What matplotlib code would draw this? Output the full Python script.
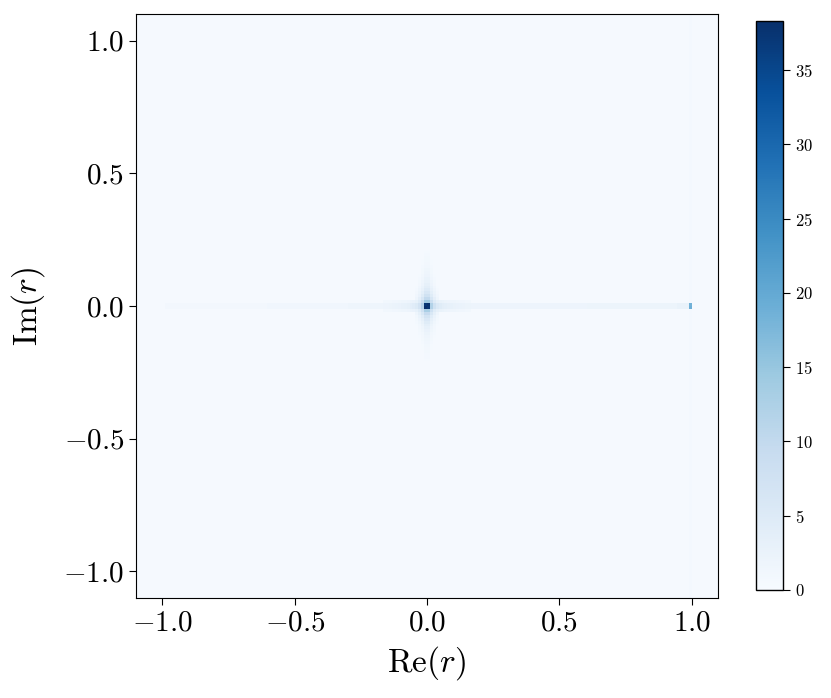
import numpy as np
import matplotlib
matplotlib.use("Agg")
import matplotlib.pyplot as plt
from matplotlib.ticker import FuncFormatter

plt.rcParams["mathtext.fontset"] = "cm"
plt.rcParams["font.family"] = "serif"
plt.rcParams["font.serif"] = ["cmr10", "DejaVu Serif"]

# ---------- data (2D histogram of r) ----------
n_bins = 200
lim = 1.1
background = 0.5

# faint line along the real axis: (start, end, count)
line_start = [-0.99, -0.60, -0.30, 0.0, 0.60, 0.95]
line_end = [-0.60, -0.30, 0.0, 0.60, 0.95, 1.0]
line_count = [1.1, 1.4, 1.7, 2.0, 2.2, 2.8]

# glow around the origin spot, by bin offset 1, 2, 3, ...
glow_up = [14.0, 10.0, 7.5, 6.0, 4.8, 4.0, 3.3, 2.8, 2.4, 2.0,
           1.7, 1.5, 1.3, 1.15, 1.0, 0.9, 0.8, 0.7]
glow_down = [13.0, 9.5, 7.0, 5.6, 4.5, 3.7, 3.1, 2.6, 2.2, 1.9,
             1.6, 1.4, 1.2, 1.05, 0.95, 0.85, 0.75, 0.65]
glow_side = [12.0, 7.5, 5.5, 4.6, 4.0, 3.6, 3.3, 3.0, 2.8, 2.6,
             2.4, 2.3, 2.2, 2.1]
glow_spread = [1.0, 0.6, 0.35, 0.18]  # share of the glow in neighbouring columns/rows

# isolated peaks: position and count
peak_re = [-0.0055, 0.0055, -0.0055, 0.0055, 0.995, 0.995]
peak_im = [-0.0055, -0.0055, 0.0055, 0.0055, -0.0055, 0.0055]
peak_count = [38.3, 37.5, 37.0, 38.0, 19.0, 18.5]

# faint column at Re(r) = 1
col_re = 0.995
col_count = 0.8

# ---------- build the grid ----------
edges = np.linspace(-lim, lim, n_bins + 1)
centers = 0.5 * (edges[:-1] + edges[1:])
H = np.full((n_bins, n_bins), background)  # H[iy, ix]
lo = n_bins // 2 - 1  # bin just below / left of zero
hi = n_bins // 2      # bin just above / right of zero
axis_rows = [lo, hi]

ic = np.argmin(np.abs(centers - col_re))
H[:, ic] = col_count

for s, e, c in zip(line_start, line_end, line_count):
    sel = (centers >= s) & (centers <= e)
    for r in axis_rows:
        H[r, sel] = c


def put(iy, ix, v):
    H[iy, ix] = max(H[iy, ix], v)


for k, v in enumerate(glow_up, start=1):
    for j, f in enumerate(glow_spread):
        put(hi + k, lo - j, v * f)
        put(hi + k, hi + j, v * f)
for k, v in enumerate(glow_down, start=1):
    for j, f in enumerate(glow_spread):
        put(lo - k, lo - j, v * f)
        put(lo - k, hi + j, v * f)
for k, v in enumerate(glow_side, start=1):
    for j, f in enumerate(glow_spread[:2]):
        put(hi + j, hi + k, v * f)
        put(lo - j, hi + k, v * f)
        put(hi + j, lo - k, v * f * 0.95)
        put(lo - j, lo - k, v * f * 0.95)

for re, im, c in zip(peak_re, peak_im, peak_count):
    ix = np.argmin(np.abs(centers - re))
    iy = np.argmin(np.abs(centers - im))
    H[iy, ix] = c

# ---------- plot ----------
fig = plt.figure(figsize=(8.31, 6.98), dpi=100)
ax = fig.add_axes([136 / 831, 1 - 598 / 698, 582 / 831, 584 / 698])
cax = fig.add_axes([756 / 831, 1 - 590 / 698, 27 / 831, 569 / 698])

mesh = ax.pcolormesh(edges, edges, H, cmap="Blues", vmin=0, vmax=38.3,
                     shading="flat", rasterized=True)
ax.set_xlim(-lim, lim)
ax.set_ylim(-lim, lim)
ticks = [-1.0, -0.5, 0.0, 0.5, 1.0]
ax.set_xticks(ticks)
ax.set_yticks(ticks)
fmt = FuncFormatter(lambda v, p: f"${v:.1f}$")
ax.xaxis.set_major_formatter(fmt)
ax.yaxis.set_major_formatter(fmt)
ax.tick_params(labelsize=21, length=5)
ax.set_xlabel(r"$\mathrm{Re}(r)$", fontsize=24, labelpad=6)
ax.set_ylabel(r"$\mathrm{Im}(r)$", fontsize=24, labelpad=12)

cb = fig.colorbar(mesh, cax=cax)
cb.set_ticks([0, 5, 10, 15, 20, 25, 30, 35])
cb.ax.yaxis.set_major_formatter(FuncFormatter(lambda v, p: f"${v:.0f}$"))
cb.ax.tick_params(labelsize=12, length=5)
cb.outline.set_linewidth(1.0)

fig.savefig("out.png", dpi=100, facecolor="white")
